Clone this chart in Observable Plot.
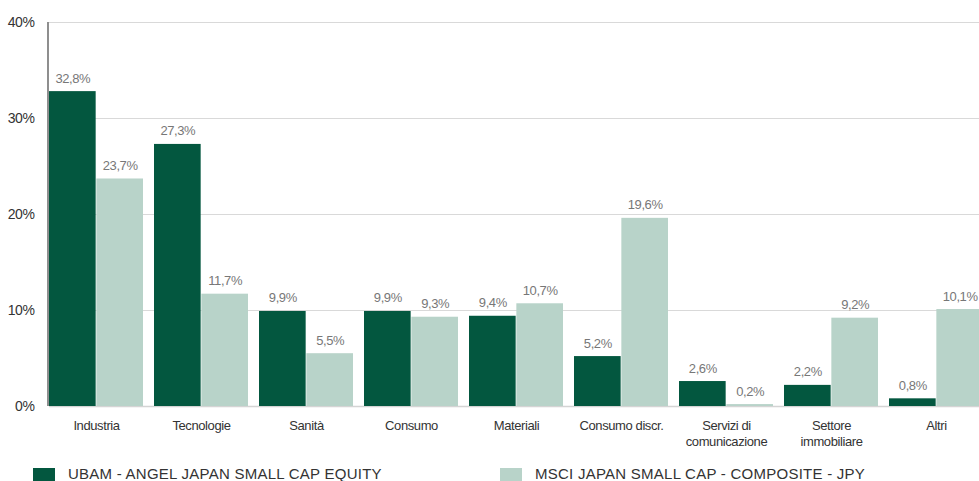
<!DOCTYPE html>
<html>
<head>
<meta charset="utf-8">
<script src="https://cdn.jsdelivr.net/npm/d3@7"></script>
<script src="https://cdn.jsdelivr.net/npm/@observablehq/plot@0.6"></script>
<style>
  html, body { margin: 0; padding: 0; background: #fff; overflow: hidden; }
  body { width: 979px; height: 481px; position: relative; font-family: "Liberation Sans", Arial, sans-serif; }
  #chart { position: absolute; left: 0; top: 0; }
  #chart svg { max-width: none !important; }
  #legend { position: absolute; left: 0; top: 465px; width: 979px; height: 30px; }
  .item { position: absolute; top: 0; display: flex; align-items: flex-start; font-size: 15px; color: #333; letter-spacing: 0.25px; white-space: nowrap; }
  .sw { width: 22px; height: 22px; margin-top: 3px; margin-right: 13px; }
</style>
</head>
<body>
<div id="chart"></div>
<div id="legend"></div>
<script>
const categories = ["Industria", "Tecnologie", "Sanità", "Consumo", "Materiali", "Consumo discr.", "Servizi di\ncomunicazione", "Settore\nimmobiliare", "Altri"];
const seriesNames = ["UBAM - ANGEL JAPAN SMALL CAP EQUITY", "MSCI JAPAN SMALL CAP - COMPOSITE - JPY"];
const ubamValues = [32.8, 27.3, 9.9, 9.9, 9.4, 5.2, 2.6, 2.2, 0.8];
const msciValues = [23.7, 11.7, 5.5, 9.3, 10.7, 19.6, 0.2, 9.2, 10.1];
const yTicks = [0, 10, 20, 30, 40];
const colors = ["#03573f", "#b8d3c9"];

const ubamRows = categories.map((c, i) => ({category: c, series: seriesNames[0], value: ubamValues[i]}));
const msciRows = categories.map((c, i) => ({category: c, series: seriesNames[1], value: msciValues[i]}));

const W = 992, H = 450;
const mL = 49, mR = 3, mT = 22, mB = 44;
const padInner = 0.104;
const step = (W - mR - mL) / (categories.length - padInner);
const bw = step * (1 - padInner);
const half = bw / 2;

const fmt = v => v.toFixed(1).replace(".", ",") + "%";

const plot = Plot.plot({
  width: W,
  height: H,
  marginLeft: mL,
  marginRight: mR,
  marginTop: mT,
  marginBottom: mB,
  style: {fontFamily: "Liberation Sans, Arial, sans-serif", color: "#333", background: "#fff", maxWidth: "none"},
  x: {domain: categories, paddingInner: padInner, paddingOuter: 0, align: 0, label: null},
  y: {domain: [0, 40], label: null},
  marks: [
    Plot.ruleY(yTicks.filter(d => d > 0), {stroke: "#d9d9d9", strokeWidth: 1}),
    Plot.ruleY([0], {stroke: "#d4d4d4", strokeWidth: 1.5}),
    Plot.barY(ubamRows, {x: "category", y: "value", fill: colors[0], insetRight: half}),
    Plot.barY(msciRows, {x: "category", y: "value", fill: colors[1], insetLeft: half}),
    Plot.text(ubamRows, {x: "category", y: "value", text: d => fmt(d.value), dx: -half / 2, dy: -9, lineAnchor: "bottom", fill: "#777", fontSize: 13}),
    Plot.text(msciRows, {x: "category", y: "value", text: d => fmt(d.value), dx: half / 2, dy: -9, lineAnchor: "bottom", fill: "#777", fontSize: 13}),
    Plot.axisY({ticks: yTicks, tickFormat: d => d + "%", tickSize: 0, tickPadding: 15, fontSize: 14, fill: "#333"}),
    Plot.axisX({tickSize: 0, tickPadding: 11, fontSize: 13, fill: "#333", lineHeight: 1.3})
  ]
});

// vertical axis line drawn through the y scale
const ys = plot.scale("y");
d3.select(plot).append("line")
  .attr("x1", mL - 1).attr("x2", mL - 1)
  .attr("y1", ys.apply(40)).attr("y2", ys.apply(0))
  .attr("stroke", "#444").attr("stroke-width", 1.2);

d3.select(plot).selectAll("text").style("letter-spacing", "-0.4px");

document.getElementById("chart").appendChild(plot);

const legend = document.getElementById("legend");
const lefts = [33, 500];
seriesNames.forEach((name, i) => {
  const item = document.createElement("div");
  item.className = "item";
  item.style.left = lefts[i] + "px";
  const sw = document.createElement("div");
  sw.className = "sw";
  sw.style.background = colors[i];
  const t = document.createElement("span");
  t.textContent = name;
  item.appendChild(sw);
  item.appendChild(t);
  legend.appendChild(item);
});
</script>
</body>
</html>
